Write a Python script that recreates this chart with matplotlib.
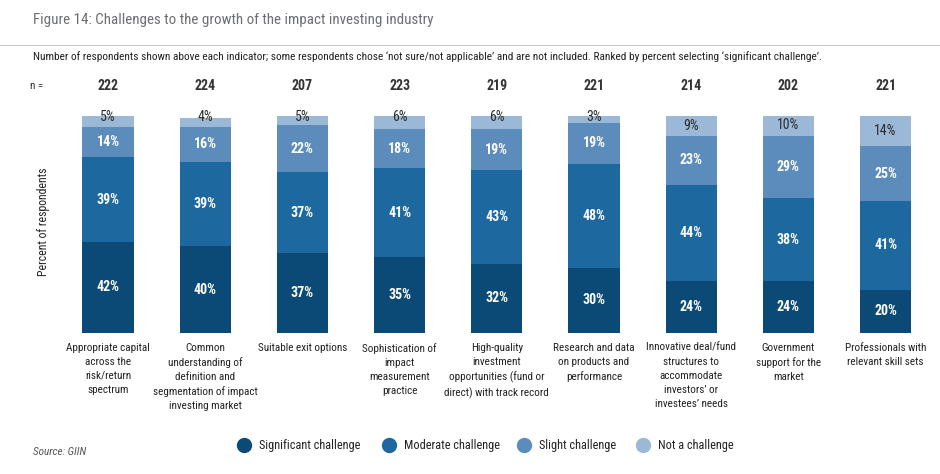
import matplotlib
matplotlib.use('Agg')
import matplotlib.pyplot as plt
import numpy as np
from matplotlib.lines import Line2D

plt.rcParams['font.family'] = ['Roboto Condensed', 'DejaVu Sans']

categories = ['Appropriate capital\nacross the\nrisk/return\nspectrum',
              'Common\nunderstanding of\ndefinition and\nsegmentation of impact\ninvesting market',
              'Suitable exit options',
              'Sophistication of\nimpact\nmeasurement\npractice',
              'High-quality\ninvestment\nopportunities (fund or\ndirect) with track record',
              'Research and data\non products and\nperformance',
              'Innovative deal/fund\nstructures to\naccommodate\ninvestors\u2019 or\ninvestees\u2019 needs',
              'Government\nsupport for the\nmarket',
              'Professionals with\nrelevant skill sets']
n_resp = [222, 224, 207, 223, 219, 221, 214, 202, 221]
significant = [42, 40, 37, 35, 32, 30, 24, 24, 20]
moderate = [39, 39, 37, 41, 43, 48, 44, 38, 41]
slight = [14, 16, 22, 18, 19, 19, 23, 29, 25]
not_challenge = [5, 4, 5, 6, 6, 3, 9, 10, 14]

series = [significant, moderate, slight, not_challenge]
names = ['Significant challenge', 'Moderate challenge', 'Slight challenge', 'Not a challenge']
colors = ['#0b4a76', '#1d689f', '#5b8cbb', '#9bb8d7']

W, H = 940, 474
fig = plt.figure(figsize=(W / 100, H / 100), dpi=100)

# axes spanning full width; bar centers placed via xlim
x0, dx = 108, 97.2
ax = fig.add_axes([0, 1 - 333 / H, 1, (333 - 116) / H])
ax.set_xlim(-x0 / dx, (W - x0) / dx)
ax.set_ylim(0, 100)
ax.axis('off')

x = np.arange(len(categories))
bottom = np.zeros(len(categories))
for k, (vals, c) in enumerate(zip(series, colors)):
    vals = np.array(vals, dtype=float)
    ax.bar(x, vals, 0.525, bottom=bottom, color=c, linewidth=0)
    for i, v in enumerate(vals):
        if k == 3:
            yy = 99.5 if v < 8 else bottom[i] + v / 2
            ax.text(x[i], yy, '%d%%' % v, ha='center', va='center',
                    fontsize=10, color='#2b2b2b')
        else:
            ax.text(x[i], bottom[i] + v / 2, '%d%%' % v, ha='center', va='center',
                    fontsize=10, color='white', fontweight='bold')
    bottom += vals

# n = row
for i, n in enumerate(n_resp):
    ax.text(x[i], 100 + 30 / 217 * 100, str(n), ha='center', va='center',
            fontsize=10, color='#333333', fontweight='bold')
fig.text(30 / W, 1 - 86 / H, 'n =', ha='left', va='center', fontsize=8, color='#333333')

# category labels
for i, lab in enumerate(categories):
    ax.text(x[i], -4.5, lab, ha='center', va='top', fontsize=8,
            color='#222222', linespacing=1.5)

# title, rule and subtitle
fig.text(33 / W, 1 - 20 / H, 'Figure 14: Challenges to the growth of the impact investing industry',
         ha='left', va='center', fontsize=10.8, color='#6d6e71')
fig.add_artist(Line2D([0, 1], [1 - 45 / H, 1 - 45 / H], color='#cccccc', linewidth=0.8))
fig.text(33 / W, 1 - 57 / H,
         'Number of respondents shown above each indicator; some respondents chose \u2018not sure/not applicable\u2019 '
         'and are not included. Ranked by percent selecting \u2018significant challenge\u2019.',
         ha='left', va='center', fontsize=8.2, color='#222222')

fig.text(43 / W, 1 - 222 / H, 'Percent of respondents', rotation=90, ha='center', va='center',
         fontsize=8.5, color='#222222')

# legend, placed item by item
leg_x = [244, 389, 524, 643]
for lx, name, c in zip(leg_x, names, colors):
    fig.add_artist(Line2D([lx / W], [1 - 445 / H], marker='o', markersize=10,
                          markerfacecolor=c, markeredgecolor=c, linestyle='none'))
    fig.text((lx + 15) / W, 1 - 445 / H, name, ha='left', va='center', fontsize=8.8,
             color='#222222')

fig.text(33 / W, 1 - 452 / H, 'Source: GIIN', ha='left', va='center', fontsize=8,
         style='italic', color='#555555')

fig.savefig('out.png', dpi=100)
